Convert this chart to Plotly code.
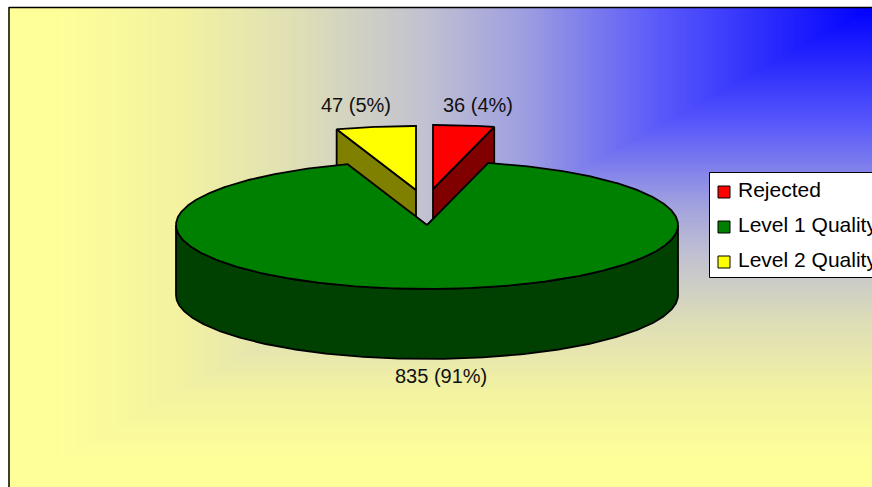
import base64
import struct
import zlib

import numpy as np
import plotly.graph_objects as go

# ---- data ----
categories = ["Rejected", "Level 1 Quality", "Level 2 Quality"]
values = [36, 835, 47]

# ---- styles ----
top_colors = ["#ff0000", "#008000", "#ffff00"]
wall_colors = ["#800000", "#004000", "#808000"]
FONT = "Liberation Sans"
W, H = 872, 487

# pie geometry in page pixels
CX, CY, RX, RY, DEPTH = 427.0, 225.0, 251.0, 64.0, 70.0
OFFSETS = [(6.0, -36.0), (0.0, 0.0), (-11.0, -35.0)]
LABEL_POS = [(478, 105), (441, 376), (356, 105)]


def gradient_png():
    """Pale yellow to blue background, corner gradient from the top right."""
    x0, y0 = 8, 7
    gw, gh = W - x0, H - y0
    xs = (W - 1 - (np.arange(gw) + x0)) / (W - x0)
    ys = (np.arange(gh)) / (H - y0)
    dx, dy = np.meshgrid(xs, ys)
    d = np.maximum(dx, dy)
    r = 255 * np.interp(d, [0, .1, .245, .41, .52, .66, .8, .95, 1],
                        [0, .14, .35, .63, .76, .87, .95, 1, 1])
    b = 153 + 102 * np.interp(d, [0, .245, .43, .52, .65, .8, .95, 1],
                              [1, .96, .66, .55, .31, .08, 0, 0])
    img = np.round(np.dstack([r, r, b])).astype(np.uint8)
    raw = b"".join(b"\x00" + img[row].tobytes() for row in range(gh))

    def chunk(tag, body):
        c = struct.pack(">I", len(body)) + tag + body
        return c + struct.pack(">I", zlib.crc32(tag + body) & 0xFFFFFFFF)

    png = b"\x89PNG\r\n\x1a\n"
    png += chunk(b"IHDR", struct.pack(">IIBBBBB", gw, gh, 8, 2, 0, 0, 0))
    png += chunk(b"IDAT", zlib.compress(raw, 9))
    png += chunk(b"IEND", b"")
    return "data:image/png;base64," + base64.b64encode(png).decode(), x0, y0, gw, gh


def rim(theta_deg, cx, cy):
    a = np.radians(theta_deg)
    return cx + RX * np.sin(a), cy - RY * np.cos(a)


def poly_trace(xs, ys, color, name):
    return go.Scatter(
        x=xs, y=ys, mode="lines", fill="toself", fillcolor=color,
        line=dict(color="black", width=1.8), hoverinfo="skip",
        showlegend=False, name=name,
    )


total = sum(values)
spans = [v / total * 360 for v in values]
starts = np.cumsum([0] + spans[:-1])

side_traces, main_traces = [], []
for i, cat in enumerate(categories):
    a0, a1 = starts[i], starts[i] + spans[i]
    cx, cy = CX + OFFSETS[i][0], CY + OFFSETS[i][1]
    theta = np.linspace(a0, a1, max(int(spans[i] * 2), 8))
    ax, ay = rim(theta, cx, cy)
    top_x = [cx, *ax, cx]
    top_y = [cy, *ay, cy]
    if i == 1:  # large slice: outer wall along the front of the rim
        th = np.linspace(90, 270, 300)
        wx, wy = rim(th, cx, cy)
        main_traces.append(poly_trace(
            [*wx, *wx[::-1], wx[0]], [*wy, *(wy[::-1] + DEPTH), wy[0]],
            wall_colors[i], cat + " wall"))
        main_traces.append(poly_trace(top_x, top_y, top_colors[i], cat))
    else:  # small exploded slice: cut wall seen from the front
        edge = a1 if i == 0 else a0
        ex, ey = rim(edge, cx, cy)
        side_traces.append(poly_trace(
            [cx, ex, ex, cx, cx], [cy, ey, ey + DEPTH, cy + DEPTH, cy],
            wall_colors[i], cat + " wall"))
        side_traces.append(poly_trace(top_x, top_y, top_colors[i], cat))

fig = go.Figure(side_traces + main_traces)

src, ix, iy, iw, ih = gradient_png()
fig.add_layout_image(dict(
    source=src, xref="x", yref="y", x=ix, y=iy, sizex=iw, sizey=ih,
    xanchor="left", yanchor="top", sizing="stretch", layer="below",
))

shapes = [
    dict(type="line", x0=9, x1=9, y0=7, y1=H, line=dict(color="black", width=1.5)),
    dict(type="line", x0=9, x1=W, y0=7.5, y1=7.5, line=dict(color="black", width=1.5)),
    dict(type="rect", x0=709.5, x1=W + 20, y0=172.5, y1=277.5,
         fillcolor="white", line=dict(color="black", width=1)),
]
annotations = []
LEG_Y = [192, 227, 262]
for cat, col, y in zip(categories, top_colors, LEG_Y):
    shapes.append(dict(type="rect", x0=718, x1=730, y0=y - 6, y1=y + 6,
                       fillcolor=col, line=dict(color="black", width=1)))
    annotations.append(dict(x=736, y=y - 3, text=cat, showarrow=False, xanchor="left",
                            yanchor="middle", xref="x", yref="y",
                            font=dict(family=FONT, size=21, color="black")))

for v, (lx, ly) in zip(values, LABEL_POS):
    annotations.append(dict(x=lx, y=ly, text=f"{v} ({round(100 * v / total)}%)",
                            showarrow=False, xref="x", yref="y",
                            font=dict(family=FONT, size=20, color="#111111")))

fig.update_layout(
    width=W, height=H, margin=dict(l=0, r=0, t=0, b=0, autoexpand=False),
    paper_bgcolor="white", plot_bgcolor="white", showlegend=False,
    xaxis=dict(range=[0, W], visible=False, fixedrange=True),
    yaxis=dict(range=[H, 0], visible=False, fixedrange=True),
    shapes=shapes, annotations=annotations,
)
fig.write_html("out.html", config=dict(displayModeBar=False),
               post_script="document.body.style.margin='0';")
